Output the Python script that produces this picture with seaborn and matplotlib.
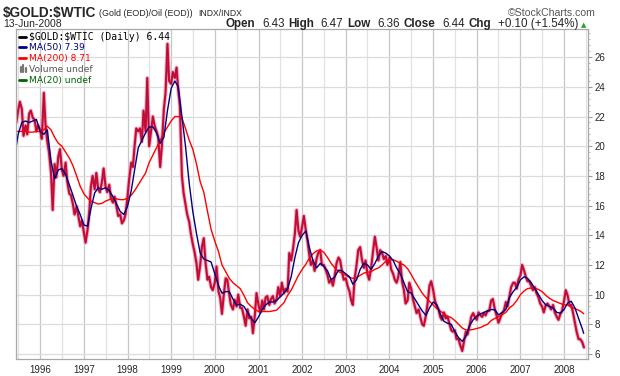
import matplotlib
matplotlib.use("Agg")

import pandas as pd
import matplotlib.pyplot as plt
import matplotlib.dates as mdates
import seaborn as sns
from matplotlib.ticker import MultipleLocator
from matplotlib.lines import Line2D
from matplotlib import font_manager

# ── Data ─────────────────────────────────────────────────────────────────────
# Gold/oil ratio, sampled on the 1st and 15th of each month (1995-06-15 .. 2008-06-13)
p1995 = [21.6, 22.4, 23.0, 22.5, 20.7, 21.4, 20.8, 22.2, 22.4, 21.9, 21.8, 21.0, 21.4]
p1996 = [21.1, 20.5, 23.6, 21.4, 20.3, 19.6, 18.2, 15.7, 18.8, 17.9, 19.3, 19.8,
         18.4, 18.0, 18.9, 17.6, 16.8, 16.7, 16.1, 15.4, 15.95, 15.3, 14.6, 15.0]
p1997 = [14.2, 13.5, 14.4, 15.6, 17.3, 18.0, 17.1, 18.2, 17.1, 16.9, 17.6, 18.5,
         17.3, 16.9, 17.4, 16.5, 16.2, 16.6, 15.9, 15.3, 15.4, 14.8, 15.0, 15.4]
p1998 = [16.6, 17.8, 18.9, 18.6, 20.0, 21.2, 21.0, 21.2, 20.3, 22.4, 21.0, 24.6,
         20.0, 20.9, 22.0, 21.4, 21.0, 20.6, 18.6, 20.0, 22.5, 23.6, 26.9, 24.4]
p1999 = [24.2, 25.0, 24.6, 25.3, 23.8, 22.7, 18.0, 16.85, 16.1, 15.4, 14.9, 14.1,
         13.4, 12.9, 12.1, 11.0, 12.0, 13.2, 13.8, 12.2, 11.0, 11.2, 10.5, 10.3]
p2000 = [10.8, 11.9, 10.2, 9.8, 8.7, 9.9, 11.1, 11.0, 10.0, 9.3, 9.0, 9.65,
         9.2, 10.0, 9.1, 9.1, 8.5, 7.9, 9.0, 8.4, 8.5, 7.4, 8.6, 10.1]
p2001 = [9.3, 8.8, 9.6, 9.0, 9.8, 9.9, 9.3, 9.7, 9.9, 9.4, 9.7, 10.5,
         9.9, 10.8, 10.1, 10.4, 10.2, 12.8, 12.3, 13.0, 14.1, 15.7, 14.3, 13.9]
p2002 = [14.6, 15.3, 14.3, 13.6, 12.7, 12.0, 12.3, 11.6, 12.4, 12.8, 13.0, 12.0,
         12.0, 11.7, 11.3, 10.8, 11.0, 10.6, 11.3, 12.1, 12.5, 12.3, 11.5, 11.0]
p2003 = [11.1, 10.6, 10.2, 9.6, 9.3, 11.0, 12.0, 13.0, 13.2, 12.4, 11.8, 12.3,
         11.4, 11.0, 11.8, 12.8, 13.9, 13.2, 12.3, 13.0, 12.8, 12.4, 12.6, 12.0]
p2004 = [12.5, 11.7, 11.4, 11.0, 10.8, 11.2, 12.2, 10.9, 10.3, 9.4, 9.6, 10.8,
         10.4, 9.7, 9.2, 8.75, 9.0, 8.5, 8.0, 7.9, 8.6, 9.4, 10.6, 10.9]
p2005 = [10.3, 9.6, 9.2, 9.0, 8.5, 8.3, 8.8, 8.4, 8.5, 8.1, 7.6, 7.5,
         7.6, 7.0, 7.0, 6.6, 6.2, 6.8, 7.5, 7.3, 7.9, 8.5, 8.75, 8.5]
p2006 = [8.3, 8.8, 8.6, 8.5, 8.75, 8.6, 8.9, 8.9, 9.6, 9.7, 9.0, 8.6,
         8.1, 8.4, 8.75, 8.9, 9.5, 9.2, 9.9, 10.5, 10.8, 10.8, 10.4, 11.0]
p2007 = [11.3, 12.0, 11.6, 11.2, 10.9, 10.9, 10.6, 10.3, 10.5, 10.1, 9.8, 9.4,
         9.2, 8.8, 9.3, 9.4, 9.2, 9.0, 9.3, 8.8, 8.5, 8.3, 8.7, 8.9]
p2008 = [9.6, 10.3, 9.9, 9.3, 9.3, 8.8, 8.1, 7.5, 7.0, 7.0, 6.8, 6.44]

# Moving averages, one value per month start (first = 1995-06-15, last = 2008-06-13)
ma50_1995 = [20.0, 20.8, 21.6, 21.7, 21.6, 21.7, 21.8]
ma50_1996 = [21.0, 20.8, 21.1, 19.0, 17.8, 18.4, 18.5, 18.1, 17.4, 16.7, 15.95, 15.4]
ma50_1997 = [14.7, 14.6, 15.8, 16.85, 17.2, 17.1, 17.2, 17.0, 16.6, 16.1, 15.6, 15.4]
ma50_1998 = [15.95, 17.0, 18.4, 19.9, 20.4, 20.9, 21.3, 21.3, 20.9, 20.2, 20.6, 22.4]
ma50_1999 = [23.9, 24.4, 24.0, 22.0, 20.0, 17.5, 15.6, 14.1, 12.8, 12.4, 12.3, 12.2]
ma50_2000 = [11.4, 10.6, 10.1, 10.2, 10.2, 9.7, 9.3, 9.35, 9.2, 8.8, 8.4, 8.1]
ma50_2001 = [8.5, 9.0, 9.3, 9.5, 9.5, 9.6, 9.85, 10.1, 10.4, 11.2, 12.5, 13.5]
ma50_2002 = [14.0, 14.3, 13.2, 12.3, 11.8, 12.1, 11.9, 11.6, 11.0, 11.2, 11.65, 11.6]
ma50_2003 = [11.4, 11.2, 10.7, 11.0, 11.7, 12.1, 12.0, 11.7, 12.1, 12.6, 12.9, 12.8]
ma50_2004 = [12.6, 12.3, 11.8, 11.4, 10.8, 10.2, 10.1, 9.7, 9.3, 8.9, 8.6, 9.1]
ma50_2005 = [9.5, 9.3, 8.7, 8.2, 8.07, 8.0, 7.5, 7.1, 6.85, 7.17, 7.9, 8.3]
ma50_2006 = [8.55, 8.7, 8.8, 8.9, 9.0, 8.97, 8.63, 8.8, 9.0, 9.8, 10.2, 10.5]
ma50_2007 = [11.0, 11.2, 11.1, 10.8, 10.4, 10.0, 9.6, 9.3, 9.2, 9.1, 8.8, 8.75]
ma50_2008 = [9.0, 9.45, 9.55, 9.1, 8.4, 7.7, 7.39]

ma200_1995 = [21.0, 21.0, 21.0, 21.0, 20.95, 20.95, 21.0]
ma200_1996 = [21.0, 21.1, 21.35, 21.1, 20.6, 20.2, 20.0, 19.6, 19.2, 18.7, 18.0, 17.3]
ma200_1997 = [16.8, 16.5, 16.3, 16.2, 16.1, 16.15, 16.3, 16.4, 16.5, 16.45, 16.4, 16.4]
ma200_1998 = [16.5, 16.7, 17.0, 17.4, 17.8, 18.2, 18.9, 19.4, 19.9, 20.4, 20.9, 21.3]
ma200_1999 = [21.7, 22.0, 22.0, 21.9, 21.2, 20.4, 19.8, 18.8, 17.6, 16.9, 15.6, 14.4]
ma200_2000 = [13.6, 12.9, 12.0, 11.55, 11.1, 10.8, 10.6, 10.4, 9.95, 9.45, 9.2, 9.0]
ma200_2001 = [8.86, 8.86, 8.86, 8.86, 8.9, 8.95, 9.2, 9.45, 9.95, 10.3, 10.8, 11.3]
ma200_2002 = [11.7, 12.05, 12.45, 12.75, 12.95, 13.0, 12.85, 12.5, 12.1, 11.8, 11.55, 11.45]
ma200_2003 = [11.3, 11.15, 11.1, 11.15, 11.3, 11.45, 11.5, 11.55, 11.7, 11.8, 12.0, 12.25]
ma200_2004 = [12.35, 12.35, 12.25, 12.1, 12.0, 11.75, 11.35, 10.9, 10.5, 10.1, 9.8, 9.55]
ma200_2005 = [9.3, 9.05, 8.9, 8.7, 8.55, 8.45, 8.25, 8.0, 7.75, 7.62, 7.62, 7.65]
ma200_2006 = [7.72, 7.78, 7.9, 8.0, 8.25, 8.4, 8.5, 8.65, 8.8, 9.1, 9.3, 9.6]
ma200_2007 = [10.0, 10.25, 10.4, 10.45, 10.42, 10.35, 10.2, 9.95, 9.75, 9.6, 9.5, 9.4]
ma200_2008 = [9.3, 9.3, 9.15, 9.05, 8.95, 8.8, 8.71]

price = (p1995 + p1996 + p1997 + p1998 + p1999 + p2000 + p2001 + p2002
         + p2003 + p2004 + p2005 + p2006 + p2007 + p2008)
ma50 = (ma50_1995 + ma50_1996 + ma50_1997 + ma50_1998 + ma50_1999 + ma50_2000
        + ma50_2001 + ma50_2002 + ma50_2003 + ma50_2004 + ma50_2005 + ma50_2006
        + ma50_2007 + ma50_2008)
ma200 = (ma200_1995 + ma200_1996 + ma200_1997 + ma200_1998 + ma200_1999 + ma200_2000
         + ma200_2001 + ma200_2002 + ma200_2003 + ma200_2004 + ma200_2005 + ma200_2006
         + ma200_2007 + ma200_2008)

price_dates = pd.date_range("1995-06-15", periods=len(price), freq="SMS")
ma_dates = (pd.DatetimeIndex(["1995-06-15"])
            .append(pd.date_range("1995-07-01", "2008-06-01", freq="MS"))
            .append(pd.DatetimeIndex(["2008-06-13"])))

df_price = pd.DataFrame({"date": price_dates, "value": price})
df_ma = pd.DataFrame({"date": ma_dates, "ma50": ma50, "ma200": ma200})

# ── Fonts ────────────────────────────────────────────────────────────────────
sns.set_style("white")
plt.rcParams["font.family"] = ["Liberation Sans", "DejaVu Sans"]
installed = {f.name for f in font_manager.fontManager.ttflist}
NARROW = "Liberation Sans Narrow" in installed
head_family = ["Liberation Sans Narrow", "Liberation Sans"] if NARROW else ["Liberation Sans"]

# ── Figure ───────────────────────────────────────────────────────────────────
W, H = 620, 376
L, R, T, B = 16, 588, 29, 359
fig = plt.figure(figsize=(W / 100, H / 100), dpi=100)
fig.patch.set_facecolor("white")
ax = fig.add_axes([L / W, 1 - B / H, (R - L) / W, (B - T) / H])


def fx(px):
    return px / W


def fy(py):
    return 1 - py / H


# price: pink halo, crimson body, faint black core
sns.lineplot(data=df_price, x="date", y="value", ax=ax, color="#eea3b6",
             linewidth=3.0, alpha=0.7, estimator=None, sort=False)
sns.lineplot(data=df_price, x="date", y="value", ax=ax, color="#d0103f",
             linewidth=1.6, estimator=None, sort=False)
sns.lineplot(data=df_price, x="date", y="value", ax=ax, color="black",
             linewidth=0.4, alpha=0.2, estimator=None, sort=False)
sns.lineplot(data=df_ma, x="date", y="ma200", ax=ax, color="#ff0000",
             linewidth=1.0, estimator=None, sort=False)
sns.lineplot(data=df_ma, x="date", y="ma50", ax=ax, color="#000080",
             linewidth=1.0, estimator=None, sort=False)

ax.set_xlim(pd.Timestamp("1995-06-13"), pd.Timestamp("2008-07-19"))
ax.set_ylim(5.66, 27.9)
ax.set_xlabel("")
ax.set_ylabel("")

ax.xaxis.set_major_locator(mdates.YearLocator())
ax.xaxis.set_major_formatter(mdates.DateFormatter("%Y"))
ax.xaxis.set_minor_locator(mdates.MonthLocator(bymonth=7))
ax.yaxis.set_major_locator(MultipleLocator(2))
ax.yaxis.set_minor_locator(MultipleLocator(0.4))
ax.yaxis.tick_right()

ax.set_axisbelow(True)
ax.grid(which="major", axis="x", color="#c6c6c6", linewidth=0.9)
ax.grid(which="minor", axis="x", color="#e2e2e2", linewidth=0.9)
ax.grid(which="major", axis="y", color="#dcdcdc", linewidth=0.9)

ax.tick_params(axis="x", which="both", length=0, labelsize=7, pad=4)
ax.tick_params(axis="y", which="major", length=3, width=0.8, color="#999999",
               labelsize=7, pad=1.5)
ax.tick_params(axis="y", which="minor", length=1.5, width=0.6, color="#aaaaaa")
for s in ax.spines.values():
    s.set_color("#a8a8a8")
    s.set_linewidth(0.9)

# ── Header ───────────────────────────────────────────────────────────────────
renderer = fig.canvas.get_renderer()

t = fig.text(fx(3), fy(16.5), "$GOLD:$WTIC", fontsize=11 if NARROW else 9.8,
             fontweight="bold", family=head_family, parse_math=False)
x = t.get_window_extent(renderer).x1 + 3
t = fig.text(fx(x), fy(16), "(Gold (EOD)/Oil (EOD))", fontsize=7.5 if NARROW else 6.4,
             family=head_family)
x = t.get_window_extent(renderer).x1 + 5
fig.text(fx(x), fy(16), "INDX/INDX", fontsize=6.2, family=["Liberation Sans"])

fig.text(fx(596), fy(16), "\u00a9StockCharts.com", fontsize=7.6, color="#555555",
         ha="right", family=["Liberation Sans", "DejaVu Sans"])
fig.text(fx(3), fy(27), "13-Jun-2008", fontsize=7.5)

pieces = [("Open", "bold"), ("6.43", "normal"), ("High", "bold"), ("6.47", "normal"),
          ("Low", "bold"), ("6.36", "normal"), ("Close", "bold"), ("6.44", "normal"),
          ("Chg", "bold"), ("+0.10 (+1.54%)", "normal")]
x = 578
for txt, wt in reversed(pieces):
    t = fig.text(fx(x), fy(27), txt, fontsize=8.4, fontweight=wt, ha="right")
    bb = t.get_window_extent(renderer)
    x = bb.x0 - (3.5 if wt == "bold" else 7)
fig.text(fx(581), fy(27), "\u25b2", fontsize=5, color="#2e9e2e",
         family=["DejaVu Sans"])

# ── Legend (inside, upper left) ─────────────────────────────────────────────
legend_rows = [("$GOLD:$WTIC (Daily) 6.44", "black", "line"),
               ("MA(50) 7.39", "#000080", "line"),
               ("MA(200) 8.71", "#ff0000", "line"),
               ("Volume undef", "#555555", "bars"),
               ("MA(20) undef", "#006400", "line")]
for i, (label, color, kind) in enumerate(legend_rows):
    yy = 36.5 + i * 10.9
    if kind == "line":
        fig.add_artist(Line2D([fx(19.5), fx(26)], [fy(yy), fy(yy)], color=color,
                              linewidth=2.0, transform=fig.transFigure))
    else:
        for bx, bh in [(20.5, 5), (23, 7), (25.5, 4)]:
            fig.add_artist(Line2D([fx(bx), fx(bx)], [fy(yy + 3), fy(yy + 3 - bh)],
                                  color="#777777", linewidth=1.6,
                                  transform=fig.transFigure))
    if i == 0:
        fig.text(fx(29), fy(yy), label, fontsize=7.0, color=color, va="center",
                 family=["DejaVu Sans Mono"], parse_math=False)
    else:
        fig.text(fx(29), fy(yy), label, fontsize=6.6, color=color, va="center",
                 family=["DejaVu Sans"])

fig.savefig("out.png", dpi=100)
